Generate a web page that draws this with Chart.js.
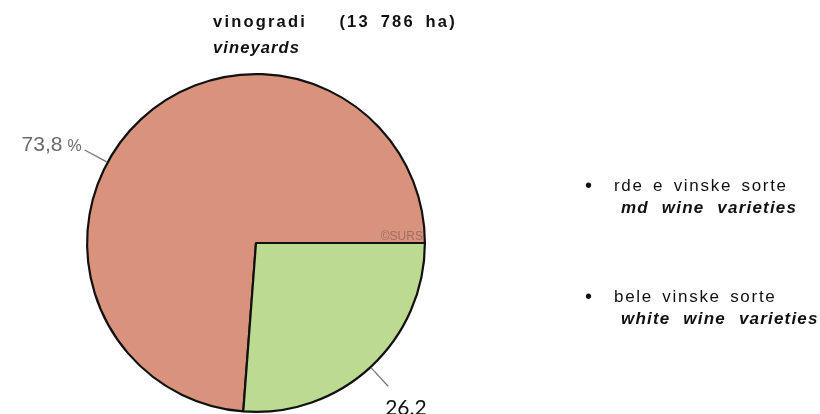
<!DOCTYPE html>
<html>
<head>
<meta charset="utf-8">
<script src="https://cdn.jsdelivr.net/npm/chart.js@4"></script>
<style>
    body { margin: 0; background: #fff; }
    #wrap { position: relative; width: 820px; height: 414px; overflow: hidden; font-family: "Liberation Sans", Arial, sans-serif; }
    #chart { position: absolute; left: 0; top: 0; }
    .txt { position: absolute; white-space: pre; line-height: 1; color: #111; }
    .title { font-size: 16.5px; font-weight: bold; letter-spacing: 2.2px; word-spacing: 4px; }
    .subtitle { font-size: 16.5px; font-weight: bold; font-style: italic; letter-spacing: 1.1px; }
    .leg { font-size: 17px; letter-spacing: 1.7px; word-spacing: 3px; }
    .leg-en { font-size: 17px; font-weight: bold; font-style: italic; letter-spacing: 1.2px; word-spacing: 7px; }
    .bullet { font-size: 20px; }
</style>
</head>
<body>
<div id="wrap">
    <canvas id="chart" width="820" height="414"></canvas>
</div>
<script>
// podatki
const categories = ['rde e vinske sorte', 'bele vinske sorte'];
const categoriesEn = ['md wine varieties', 'white wine varieties'];
const shares = [73.8, 26.2];
const shareLabels = ['73,8 %', '26.2'];
const titleText = 'vinogradi   (13 786 ha)';
const subtitleText = 'vineyards';
const colors = ['#d9937c', '#bcdb91'];

document.addEventListener('DOMContentLoaded', function() {
    const wrap = document.getElementById('wrap');

    function addText(text, cls, left, top) {
        const el = document.createElement('div');
        el.className = 'txt ' + cls;
        el.textContent = text;
        el.style.left = left + 'px';
        el.style.top = top + 'px';
        wrap.appendChild(el);
    }

    // naslov
    addText(titleText, 'title', 213, 13);
    addText(subtitleText, 'subtitle', 213, 39);

    // legenda
    const legendTop = [176.5, 287.5];
    categories.forEach((name, i) => {
        addText('•', 'bullet', 585, legendTop[i] - 2);
        addText(name, 'leg', 614, legendTop[i]);
        addText(categoriesEn[i], 'leg-en', 621, legendTop[i] + 22);
    });

    // oznake deležev in ©SURS
    const pieLabelsPlugin = {
        id: 'pieLabels',
        afterDatasetsDraw(chart) {
            const ctx = chart.ctx;
            const arcs = chart.getDatasetMeta(0).data;
            const cx = arcs[0].x, cy = arcs[0].y, r = arcs[0].outerRadius;
            const anchors = [208.5, 47.3];
            ctx.save();

            anchors.forEach((deg, i) => {
                const a = deg * Math.PI / 180;
                const x1 = cx + Math.cos(a) * (r + 1), y1 = cy + Math.sin(a) * (r + 1);
                const x2 = cx + Math.cos(a) * (r + 26), y2 = cy + Math.sin(a) * (r + 26);
                ctx.strokeStyle = '#777';
                ctx.lineWidth = 1.3;
                ctx.beginPath();
                ctx.moveTo(x1, y1);
                ctx.lineTo(x2, y2);
                ctx.stroke();

                if (i === 0) {
                    // "%" je v izvirniku manjši
                    const parts = shareLabels[i].split(' ');
                    ctx.fillStyle = '#6b6b6b';
                    ctx.textAlign = 'right';
                    ctx.textBaseline = 'alphabetic';
                    ctx.font = '16px "Liberation Sans", Arial';
                    const pctW = ctx.measureText(parts[1]).width;
                    ctx.fillText(parts[1], x2 - 3, y2 + 1);
                    ctx.font = '21px "Liberation Sans", Arial';
                    ctx.fillText(parts[0], x2 - 3 - pctW - 5, y2 + 1);
                } else {
                    ctx.fillStyle = '#111';
                    ctx.font = '21px Lato, "Open Sans"';
                    ctx.textAlign = 'left';
                    ctx.textBaseline = 'top';
                    ctx.fillText(shareLabels[i], x2 - 3, y2 + 11);
                }
            });

            ctx.fillStyle = 'rgba(110,80,75,0.55)';
            ctx.font = '12px "Liberation Sans", Arial';
            ctx.textAlign = 'right';
            ctx.textBaseline = 'alphabetic';
            ctx.fillText('©SURS', cx + r - 2, cy - 3);
            ctx.restore();
        }
    };

    const total = shares.reduce((a, b) => a + b, 0);

    new Chart(document.getElementById('chart').getContext('2d'), {
        type: 'pie',
        data: {
            labels: categories,
            datasets: [{
                data: shares,
                backgroundColor: colors,
                borderColor: '#111',
                borderWidth: 2.2,
                borderAlign: 'center'
            }]
        },
        options: {
            responsive: false,
            animation: false,
            rotation: 90 + shares[1] / total * 360,
            layout: {
                padding: { left: 86, right: 394, top: 72, bottom: 0 }
            },
            plugins: {
                legend: { display: false },
                tooltip: { enabled: false },
                title: { display: false }
            }
        },
        plugins: [pieLabelsPlugin]
    });
});
</script>
</body>
</html>
